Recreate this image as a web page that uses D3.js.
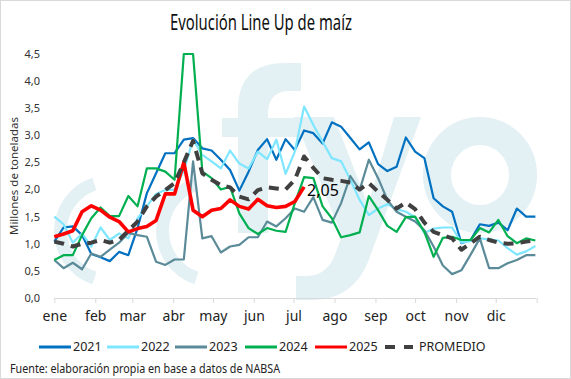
<!DOCTYPE html>
<html><head><meta charset="utf-8">
<script src="https://cdn.jsdelivr.net/npm/d3@7"></script>
<style>
html,body{margin:0;padding:0;background:#fff;}
svg{display:block;font-family:"Noto Sans","Open Sans",sans-serif;}
</style></head>
<body><svg id="c" width="571" height="379"></svg>
<script>
// ---- data (weekly, Millones de toneladas) ----
const monthLabels = ["ene","feb","mar","abr","may","jun","jul","ago","sep","oct","nov","dic"];
const yTicks = [0,0.5,1,1.5,2,2.5,3,3.5,4,4.5];
const s2021 = [1.04,1.30,1.32,1.16,0.81,0.75,0.68,0.85,0.79,1.29,1.93,2.30,2.67,2.67,2.92,2.95,2.76,2.72,2.55,2.36,1.98,2.33,2.73,2.93,2.55,2.93,2.73,3.09,3.04,2.85,3.24,3.16,2.95,2.74,2.87,2.47,2.34,2.42,2.96,2.70,2.58,1.84,1.69,1.59,1.01,1.07,1.36,1.33,1.39,1.25,1.65,1.50,1.50];
const s2022 = [1.50,1.36,1.02,1.19,0.95,1.30,1.07,1.19,1.10,1.47,1.69,1.92,1.99,2.00,2.35,2.92,2.64,2.52,2.39,2.72,2.48,2.39,2.70,2.56,2.92,2.29,2.70,3.53,3.19,2.88,2.58,2.52,2.18,1.81,1.53,1.65,1.73,1.64,1.59,1.49,1.20,1.28,1.30,1.30,1.02,1.05,1.10,1.08,1.06,0.92,0.80,0.86,0.96];
const s2023 = [0.70,0.55,0.65,0.53,0.82,0.76,0.89,1.02,1.20,1.16,1.13,0.67,0.61,0.71,0.71,2.52,1.10,1.14,0.84,0.95,0.98,1.12,1.12,1.41,1.32,1.47,1.65,1.59,1.86,1.44,1.39,1.75,2.25,1.99,2.55,2.21,1.81,1.59,1.50,1.41,1.25,0.95,0.60,0.44,0.51,0.80,1.10,0.55,0.55,0.64,0.70,0.79,0.79];
const s2024 = [0.70,0.79,0.79,1.16,1.47,1.67,1.51,1.51,1.88,1.69,2.39,2.39,2.33,2.18,4.50,4.50,2.33,2.21,2.00,2.05,1.56,1.29,1.18,1.29,1.24,1.22,1.75,2.23,2.21,1.69,1.47,1.12,1.16,1.21,1.88,1.62,1.33,1.22,1.49,1.50,1.22,0.76,1.11,1.13,1.07,1.07,1.29,1.21,1.44,1.14,1.01,1.10,1.06];
const s2025 = [1.13,1.18,1.24,1.59,1.70,1.62,1.49,1.41,1.22,1.28,1.32,1.43,1.92,1.92,2.50,1.62,1.50,1.62,1.65,1.81,1.69,1.64,1.82,1.70,1.67,1.69,1.78,2.05];
const sProm = [1.04,1.00,0.95,1.00,1.02,1.07,1.02,1.07,1.24,1.41,1.69,1.87,1.99,2.12,2.50,2.90,2.30,2.18,2.08,2.04,1.87,1.82,1.99,2.04,2.02,2.00,2.18,2.61,2.40,2.21,2.18,2.16,2.13,2.00,2.12,1.96,1.81,1.65,1.76,1.64,1.39,1.22,1.16,1.10,0.89,1.01,1.13,1.07,1.02,1.00,1.01,1.04,1.06];
const seriesNames = ["2021","2022","2023","2024","2025","PROMEDIO"];

const series = [
  {name:"2021", values:s2021, color:"#0070C0", width:2.2, dash:null},
  {name:"2022", values:s2022, color:"#7FE6FF", width:2.2, dash:null},
  {name:"2023", values:s2023, color:"#5B8B98", width:2.2, dash:null},
  {name:"2024", values:s2024, color:"#00B050", width:2.2, dash:null},
  {name:"2025", values:s2025, color:"#FF0000", width:3.6, dash:null},
  {name:"PROMEDIO", values:sProm, color:"#404040", width:4, dash:"10,7"}
];

const svg = d3.select("#c");
const start = new Date(2025,0,1), end = new Date(2026,0,1);
const x = d3.scaleTime().domain([start,end]).range([54.3,536.7]);
const y = d3.scaleLinear().domain([0,4.5]).range([298,54]);
const dateOf = i => d3.timeDay.offset(start, 7*i);

// frame
svg.append("rect").attr("x",0.5).attr("y",0.5).attr("width",570).attr("height",378)
  .attr("fill","#fff").attr("stroke","#D9D9D9");

// watermark
const wm = svg.append("g").attr("fill","#E3F0F4");
const arc = d3.arc().innerRadius(43).outerRadius(56).startAngle(-Math.PI+0.32).endAngle(-0.32);
wm.append("path").attr("d",arc()).attr("transform","translate(110,231)");
wm.append("path").attr("d",arc()).attr("transform","translate(212,231)");
wm.append("path").attr("d","M238,233 V110 Q238,63 285,63 H301 V91 H290 Q268,91 268,114 V233 Z");
wm.append("rect").attr("x",222).attr("y",118).attr("width",79).attr("height",19);
wm.append("path").attr("d","M294,117 L334,117 L368,205 L394,117 L421,117 L368,262 Q352,300 312,300 L296,300 L296,276 L306,276 Q328,276 336,252 L342,236 Z");
wm.append("ellipse").attr("cx",480).attr("cy",175).attr("rx",43).attr("ry",44)
  .attr("fill","none").attr("stroke","#E3F0F4").attr("stroke-width",28);

// title
svg.append("text").attr("x",261).attr("y",30).attr("text-anchor","middle")
  .attr("font-size",21).attr("fill","#111").attr("textLength",182).attr("lengthAdjust","spacingAndGlyphs")
  .text("Evolución Line Up de maíz");

// y axis labels
svg.append("g").selectAll("text").data(yTicks).join("text")
  .attr("x",40).attr("y",d=>y(d)).attr("dy","0.35em").attr("text-anchor","end")
  .attr("font-size",11).attr("fill","#333")
  .text(d=>d3.format(".1f")(d).replace(".",","));
svg.append("text").attr("transform","translate(18,176) rotate(-90)").attr("text-anchor","middle")
  .attr("font-size",11.5).attr("fill","#333").text("Millones de toneladas");

// x axis
const xa = svg.append("g").attr("transform","translate(0,298)")
  .call(d3.axisBottom(x).ticks(d3.timeMonth.every(1)).tickSize(5)
    .tickFormat(d=>d.getFullYear()===2025?monthLabels[d.getMonth()]:""));
xa.selectAll("line").attr("stroke","#D9D9D9");
xa.select(".domain").attr("stroke","#D9D9D9").attr("d","M54.3,0.5H536.7");
xa.selectAll("text").attr("font-size",14).attr("fill","#222").attr("dy",0).attr("y",23)
  .attr("font-family","Noto Sans, sans-serif");

// lines
const line = d3.line().x((d,i)=>x(dateOf(i))).y(d=>y(d));
svg.append("g").selectAll("path").data(series).join("path")
  .attr("d",d=>line(d.values)).attr("fill","none")
  .attr("stroke",d=>d.color).attr("stroke-width",d=>d.width)
  .attr("stroke-dasharray",d=>d.dash).attr("stroke-linejoin","round");

// data label
const li = s2025.length-1;
svg.append("text").attr("x",x(dateOf(li))+3).attr("y",y(s2025[li])+9)
  .attr("font-size",16).attr("fill","#000").text(d3.format(".2f")(s2025[li]).replace(".",","));

// legend
const legX = [39,107,175,245,315,385];
const lg = svg.append("g").selectAll("g").data(series).join("g")
  .attr("transform",(d,i)=>`translate(${legX[i]},347)`);
lg.append("line").attr("x1",0).attr("x2",d=>d.dash?28:32).attr("y1",0).attr("y2",0)
  .attr("stroke",d=>d.color).attr("stroke-width",d=>d.dash?4:3)
  .attr("stroke-dasharray",d=>d.dash?"10,9":null);
lg.append("text").attr("x",34).attr("y",0).attr("dy","0.35em")
  .attr("font-size",12.5).attr("fill","#222").text(d=>d.name);

// source
svg.append("text").attr("x",10).attr("y",373).attr("font-size",12).attr("fill","#222")
  .attr("textLength",270).attr("lengthAdjust","spacingAndGlyphs")
  .text("Fuente: elaboración propia en base a datos de NABSA");
</script></body></html>
